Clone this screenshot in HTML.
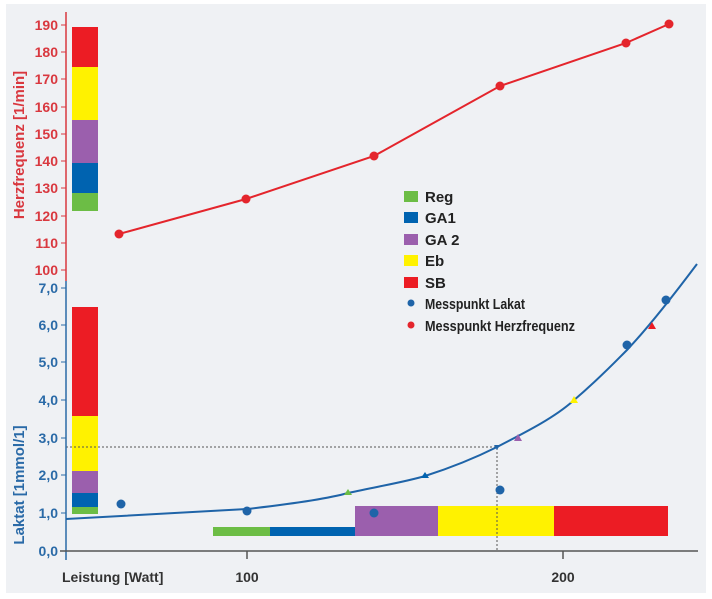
<!DOCTYPE html>
<html><head><style>
body{margin:0;background:#fff}
svg{display:block}
text{font-family:"Liberation Sans Narrow","Liberation Sans",sans-serif;font-weight:bold}
</style></head><body>
<svg width="712" height="599" viewBox="0 0 712 599" xmlns="http://www.w3.org/2000/svg">
<rect x="6" y="4" width="700" height="589" fill="#eff1f4"/>
<rect x="72" y="27" width="26" height="40" fill="#ec1c24"/>
<rect x="72" y="67" width="26" height="53" fill="#fff200"/>
<rect x="72" y="120" width="26" height="43" fill="#9b5fad"/>
<rect x="72" y="163" width="26" height="30" fill="#0063b0"/>
<rect x="72" y="193" width="26" height="18" fill="#6cbd45"/>
<rect x="72" y="307" width="26" height="109" fill="#ec1c24"/>
<rect x="72" y="416" width="26" height="55" fill="#fff200"/>
<rect x="72" y="471" width="26" height="22" fill="#9b5fad"/>
<rect x="72" y="493" width="26" height="14" fill="#0063b0"/>
<rect x="72" y="507" width="26" height="7" fill="#6cbd45"/>
<rect x="213" y="527" width="57" height="9" fill="#6cbd45"/>
<rect x="270" y="527" width="85" height="9" fill="#0063b0"/>
<rect x="355" y="506" width="83" height="30" fill="#9b5fad"/>
<rect x="438" y="506" width="116" height="30" fill="#fff200"/>
<rect x="554" y="506" width="114" height="30" fill="#ec1c24"/>
<path d="M66 447H497V551" fill="none" stroke="#555" stroke-width="1" stroke-dasharray="2,2"/>
<line x1="66" y1="12" x2="66" y2="281" stroke="#d9383f" stroke-width="1.5"/>
<line x1="66" y1="281" x2="66" y2="560" stroke="#2a6aa7" stroke-width="1.5"/>
<line x1="60" y1="551" x2="698" y2="551" stroke="#555" stroke-width="1.5"/>
<line x1="247" y1="551" x2="247" y2="559" stroke="#555" stroke-width="1.5"/>
<line x1="563" y1="551" x2="563" y2="559" stroke="#555" stroke-width="1.5"/>
<g stroke="#d9383f" stroke-width="1">
<line x1="61" y1="25" x2="66" y2="25"/><line x1="61" y1="52" x2="66" y2="52"/><line x1="61" y1="79" x2="66" y2="79"/><line x1="61" y1="107" x2="66" y2="107"/><line x1="61" y1="134" x2="66" y2="134"/><line x1="61" y1="161" x2="66" y2="161"/><line x1="61" y1="188" x2="66" y2="188"/><line x1="61" y1="216" x2="66" y2="216"/><line x1="61" y1="243" x2="66" y2="243"/><line x1="61" y1="270" x2="66" y2="270"/>
</g>
<g stroke="#2a6aa7" stroke-width="1">
<line x1="61" y1="288" x2="66" y2="288"/><line x1="61" y1="325" x2="66" y2="325"/><line x1="61" y1="362" x2="66" y2="362"/><line x1="61" y1="400" x2="66" y2="400"/><line x1="61" y1="438" x2="66" y2="438"/><line x1="61" y1="475" x2="66" y2="475"/><line x1="61" y1="513" x2="66" y2="513"/>
</g>
<g fill="#d9383f" font-size="14" text-anchor="end">
<text x="58" y="30">190</text><text x="58" y="57">180</text><text x="58" y="84">170</text><text x="58" y="112">160</text><text x="58" y="139">150</text><text x="58" y="166">140</text><text x="58" y="193">130</text><text x="58" y="221">120</text><text x="58" y="248">110</text><text x="58" y="275">100</text>
</g>
<g fill="#2a6aa7" font-size="14" text-anchor="end">
<text x="58" y="293">7,0</text><text x="58" y="330">6,0</text><text x="58" y="367">5,0</text><text x="58" y="405">4,0</text><text x="58" y="443">3,0</text><text x="58" y="480">2,0</text><text x="58" y="518">1,0</text><text x="58" y="556">0,0</text>
</g>
<text transform="translate(24,145) rotate(-90)" text-anchor="middle" fill="#d9383f" font-size="15">Herzfrequenz [1/min]</text>
<text transform="translate(24,485) rotate(-90)" text-anchor="middle" fill="#2a6aa7" font-size="15">Laktat [1mmol/1]</text>
<g fill="#333" font-size="14">
<text x="62" y="582">Leistung  [Watt]</text>
<text x="247" y="582" text-anchor="middle">100</text>
<text x="563" y="582" text-anchor="middle">200</text>
</g>
<polyline points="119,234 246,199 374,156 500,86 626,43 669,24" fill="none" stroke="#e4252c" stroke-width="2"/>
<g fill="#e4252c"><circle cx="119" cy="234" r="4.5"/><circle cx="246" cy="199" r="4.5"/><circle cx="374" cy="156" r="4.5"/><circle cx="500" cy="86" r="4.5"/><circle cx="626" cy="43" r="4.5"/><circle cx="669" cy="24" r="4.5"/></g>
<path d="M66 519 L247 509 C300 503 330 498 348 493 C380 486 405 482 425 476 C450 468 475 458 497 447 C530 430 555 417 573 401 C600 378 615 362 627 350 C645 331 670 300 697 264" fill="none" stroke="#1f64a8" stroke-width="2"/>
<g fill="#1f64a8"><circle cx="121" cy="504" r="4.5"/><circle cx="247" cy="511" r="4.5"/><circle cx="374" cy="513" r="4.5"/><circle cx="500" cy="490" r="4.5"/><circle cx="627" cy="345" r="4.5"/><circle cx="666" cy="300" r="4.5"/></g>
<polygon points="348,489 352,495 344,495" fill="#6cbd45"/>
<polygon points="425,472 429,478 421,478" fill="#0063b0"/>
<polygon points="518,434 522,441 514,441" fill="#9b5fad"/>
<polygon points="574,396 578,403 570,403" fill="#fff200"/>
<polygon points="652,322 656,329 648,329" fill="#ec1c24"/>
<polygon points="494,445 500,445 497,450" fill="#1f64a8"/>
<rect x="404" y="191" width="14" height="11" fill="#6cbd45"/>
<rect x="404" y="212" width="14" height="11" fill="#0063b0"/>
<rect x="404" y="234" width="14" height="11" fill="#9b5fad"/>
<rect x="404" y="255" width="14" height="11" fill="#fff200"/>
<rect x="404" y="277" width="14" height="11" fill="#ec1c24"/>
<circle cx="411" cy="303" r="3.5" fill="#1f64a8"/>
<circle cx="411" cy="325" r="3.5" fill="#e4252c"/>
<g fill="#222" font-size="15">
<text x="425" y="202">Reg</text><text x="425" y="223">GA1</text><text x="425" y="245">GA 2</text><text x="425" y="266">Eb</text><text x="425" y="288">SB</text>
<text x="425" y="309" textLength="100" lengthAdjust="spacingAndGlyphs">Messpunkt Lakat</text><text x="425" y="331" textLength="150" lengthAdjust="spacingAndGlyphs">Messpunkt Herzfrequenz</text>
</g>
</svg>
</body></html>
